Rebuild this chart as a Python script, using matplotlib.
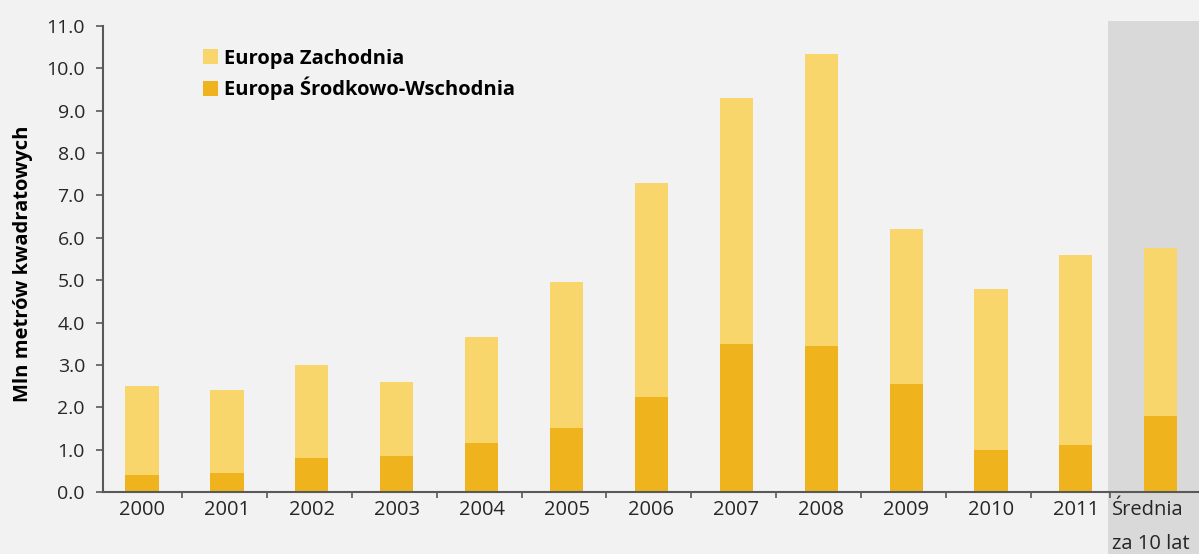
import matplotlib
matplotlib.use("Agg")
import matplotlib.pyplot as plt
import matplotlib.transforms as mtransforms
import numpy as np
from matplotlib.patches import Rectangle, Patch

plt.rcParams["font.family"] = ["Open Sans", "DejaVu Sans"]

categories = ["2000", "2001", "2002", "2003", "2004", "2005", "2006",
              "2007", "2008", "2009", "2010", "2011", "Średnia\nza 10 lat"]
# Europa Środkowo-Wschodnia (lower segment)
cee = [0.40, 0.45, 0.80, 0.85, 1.15, 1.50, 2.25, 3.50, 3.45, 2.55, 1.00, 1.10, 1.80]
# Europa Zachodnia (upper segment)
west = [2.10, 1.95, 2.20, 1.75, 2.50, 3.45, 5.05, 5.80, 6.90, 3.65, 3.80, 4.50, 3.95]
yticks = np.arange(0, 12, 1.0)

LIGHT = "#F8D66B"
DARK = "#EFB31E"
BG = "#F2F2F2"
BAND = "#D9D9D9"
AXIS = "#595959"
TEXT = "#262626"

fig = plt.figure(figsize=(11.99, 5.54), dpi=100, facecolor=BG)
ax = fig.add_axes([103 / 1199, 62 / 554, 1 - 103 / 1199, 466 / 554])
ax.set_facecolor(BG)

x = np.arange(len(categories))
ax.set_xlim(-0.46, 12.45)
ax.set_ylim(0, 11)

# shaded column behind the 10-year average, reaching below the axis
ax.add_patch(Rectangle((11.38, -0.133), 1.2, 1.144, transform=ax.get_xaxis_transform(),
                       facecolor=BAND, edgecolor="none", clip_on=False, zorder=0))

ax.bar(x, cee, width=0.39, color=DARK, zorder=2)
ax.bar(x, west, width=0.39, bottom=cee, color=LIGHT, zorder=2)

for side in ("top", "right"):
    ax.spines[side].set_visible(False)
for side in ("left", "bottom"):
    ax.spines[side].set_color(AXIS)
    ax.spines[side].set_linewidth(1.5)
    ax.spines[side].set_zorder(3)

ax.set_yticks(yticks)
ax.set_yticklabels([f"{v:.1f}" for v in yticks])
ax.tick_params(axis="y", direction="out", length=5, width=1.2, color=AXIS,
               labelsize=14, labelcolor=TEXT, pad=8)

ax.set_xticks(x)
ax.set_xticklabels(categories, linespacing=1.9)
ax.set_xticks(list(np.arange(11) + 0.47) + [11.4], minor=True)
ax.tick_params(axis="x", which="major", length=0, labelsize=14.5,
               labelcolor=TEXT, pad=6)
ax.tick_params(axis="x", which="minor", direction="out", length=4, width=1.2, color=AXIS)
shift = mtransforms.ScaledTranslation(-10 / 100, 0, fig.dpi_scale_trans)
for lbl in ax.get_xticklabels():
    if "\n" in lbl.get_text():
        lbl.set_verticalalignment("top")
        lbl.set_multialignment("left")
        lbl.set_transform(lbl.get_transform() + shift)

ax.set_ylabel("Mln metrów kwadratowych", fontsize=14.5, fontweight="bold",
              color="black")
ax.yaxis.set_label_coords(-0.064, 0.49)

handles = [Patch(facecolor=LIGHT, edgecolor="none"),
           Patch(facecolor=DARK, edgecolor="none")]
leg = ax.legend(handles, ["Europa Zachodnia", "Europa Środkowo-Wschodnia"],
                loc="upper left", bbox_to_anchor=(0.091, 0.951), frameon=False,
                borderpad=0, borderaxespad=0,
                handlelength=0.75, handleheight=0.75, handletextpad=0.3,
                labelspacing=0.4, prop={"weight": "bold", "size": 14.5})
for t in leg.get_texts():
    t.set_color("black")

fig.savefig("out.png", dpi=100, facecolor=BG)
